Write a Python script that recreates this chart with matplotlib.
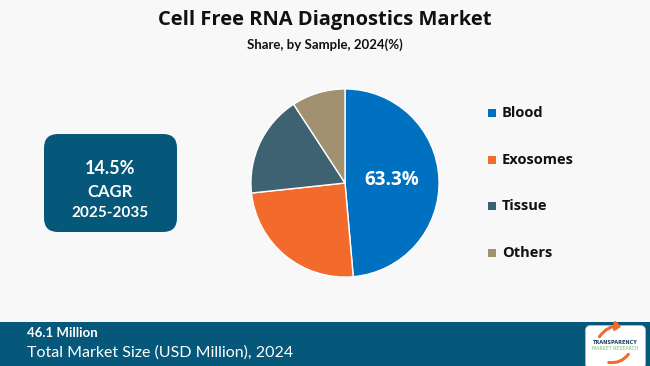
import matplotlib.pyplot as plt
from matplotlib.patches import FancyBboxPatch, Rectangle, FancyArrowPatch

# pie data
samples = ['Blood', 'Exosomes', 'Tissue', 'Others']
shares = [48.6, 24.7, 17.5, 9.2]
colors = ['#0070C0', '#F26A2C', '#3E6272', '#A19171']
blood_label = '63.3%'

cagr = '14.5%'
cagr_years = '2025-2035'
market_size = '46.1 Million'
market_caption = 'Total Market Size (USD Million), 2024'

W, H = 650, 366
fig = plt.figure(figsize=(W / 100, H / 100), dpi=100)
fig.patch.set_facecolor('#F8F8F8')

# background axes in pixel coords
bg = fig.add_axes([0, 0, 1, 1])
bg.set_xlim(0, W)
bg.set_ylim(H, 0)
bg.axis('off')

bg.text(325, 20, 'Cell Free RNA Diagnostics Market', ha='center', va='center',
        fontsize=14.5, fontweight='bold', family='Open Sans', color='#111111')
bg.text(325, 45, 'Share, by Sample, 2024(%)', ha='center', va='center',
        fontsize=9.5, fontweight='bold', family='Lato', color='#111111')

# CAGR box
bg.add_patch(FancyBboxPatch((48, 138), 125, 90, boxstyle='round,pad=4,rounding_size=14',
                            fc='#06587A', ec='none'))
bg.text(110, 169, cagr, ha='center', va='center', fontsize=13, fontweight='bold',
        family='Lato', color='white')
bg.text(110, 192, 'CAGR', ha='center', va='center', fontsize=12, fontweight='bold',
        family='Lato', color='white')
bg.text(110, 213, cagr_years, ha='center', va='center', fontsize=11, fontweight='bold',
        family='Lato', color='white')

# legend
for i, (name, c) in enumerate(zip(samples, colors)):
    y = 113 + i * 46.7
    bg.add_patch(Rectangle((488, y - 4), 8, 8, fc=c, ec='none'))
    bg.text(502, y, name, ha='left', va='center', fontsize=10.5, fontweight='bold',
            family='Open Sans', color='#111111')

# footer
bg.add_patch(Rectangle((0, 322), W, 44, fc='#06587A', ec='none'))
bg.text(27, 333, market_size, ha='left', va='center', fontsize=9.5, fontweight='bold',
        family='Lato', color='white')
bg.text(27, 353, market_caption, ha='left', va='center', fontsize=11.5,
        family='Lato', color='white')

# logo
bg.add_patch(FancyBboxPatch((587, 327), 57, 40, boxstyle='round,pad=1.5,rounding_size=5',
                            fc='white', ec='#BBBBBB', lw=0.6))
bg.add_patch(FancyArrowPatch((598, 339), (624, 327), connectionstyle='arc3,rad=-0.35',
                             arrowstyle='-|>,head_width=2.5,head_length=3',
                             color='#F26A2C', lw=2.2))
bg.add_patch(FancyArrowPatch((630, 352), (606, 362), connectionstyle='arc3,rad=-0.35',
                             arrowstyle='-', color='#F26A2C', lw=2.2))
bg.text(615, 342, 'TRANSPARENCY', ha='center', va='center', fontsize=3.6,
        fontweight='bold', color='#1F3F66')
bg.text(615, 348, 'MARKET RESEARCH', ha='center', va='center', fontsize=3.4,
        color='#6FBF73')

# pie
pie_ax = fig.add_axes([250 / W, (H - 278) / H, 190 / W, 190 / H])
pie_ax.pie(shares, colors=colors, startangle=90, counterclock=False, radius=1,
           wedgeprops=dict(edgecolor='white', linewidth=1))
pie_ax.set_xlim(-1.01, 1.01)
pie_ax.set_ylim(-1.01, 1.01)
pie_ax.set_aspect('equal')
pie_ax.text(0.5, 0.03, blood_label, ha='center', va='center', fontsize=13.5,
            fontweight='bold', family='Open Sans', color='white')

fig.savefig('out.png', dpi=100, facecolor=fig.get_facecolor())
